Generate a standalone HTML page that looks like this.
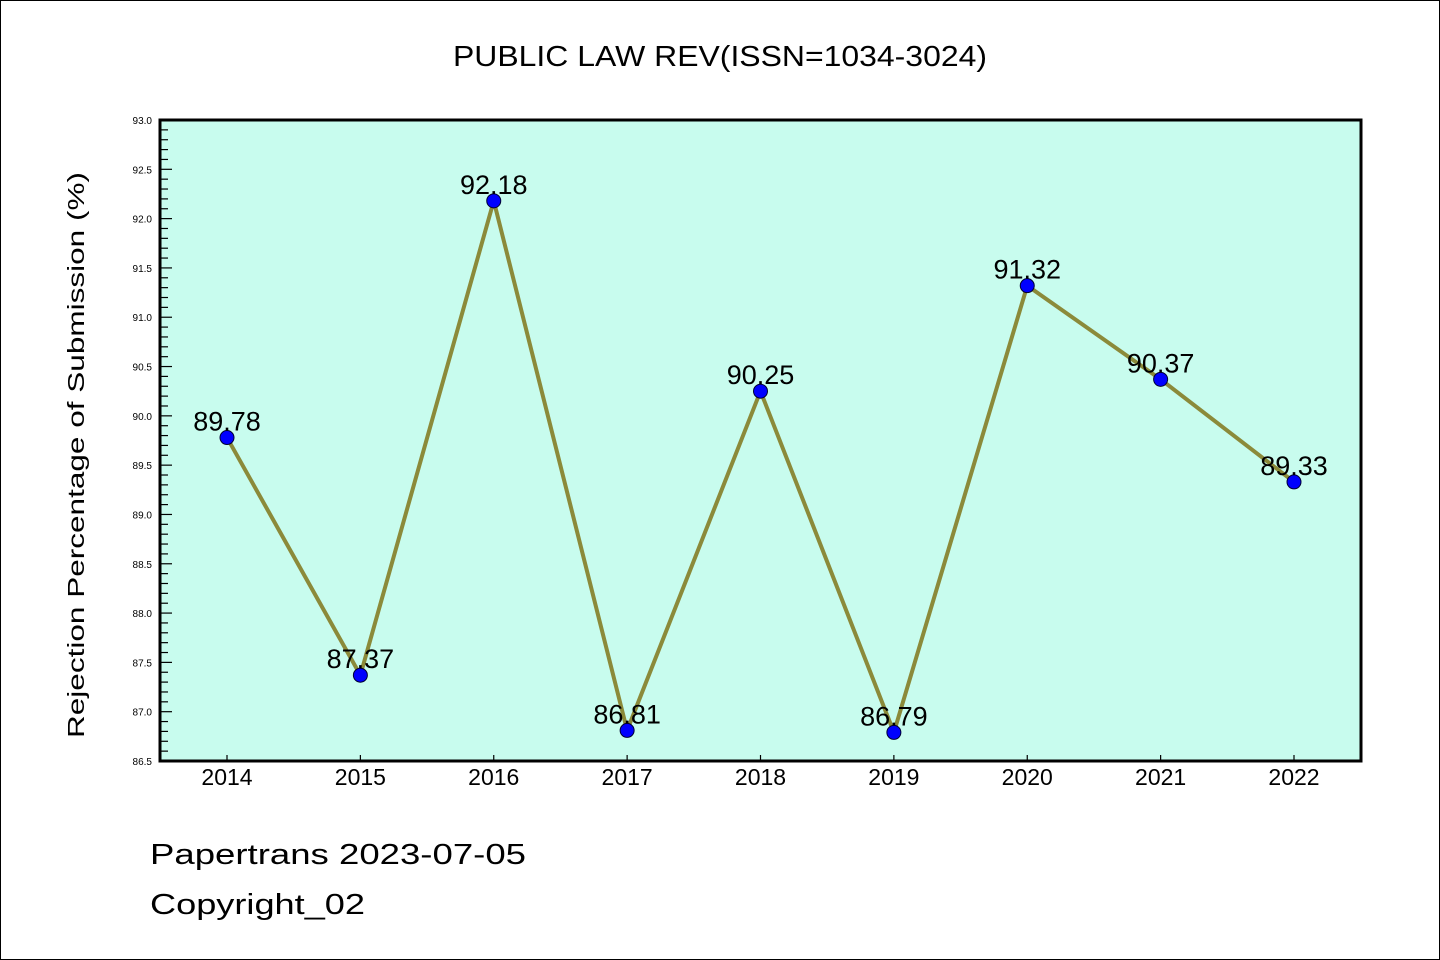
<!DOCTYPE html>
<html><head><meta charset="utf-8"><style>
html,body{margin:0;padding:0;background:#fff;}
svg{display:block;font-family:"Liberation Sans","Noto Sans CJK SC",sans-serif;}
</style></head><body>
<svg id="chart" width="1440" height="960">
<rect x="0.5" y="0.5" width="1439" height="959" fill="#fff" stroke="#000"/>
<text x="720" y="66" font-size="29" text-anchor="middle" textLength="534" lengthAdjust="spacingAndGlyphs">PUBLIC LAW REV(ISSN=1034-3024)</text>
<rect x="160" y="120" width="1201" height="641" fill="#c8fcee"/>
<g id="yaxis"></g>
<g id="xaxis"></g>
<g id="series"></g>
<rect x="160" y="120" width="1201" height="641" fill="none" stroke="#000" stroke-width="3"/>
<text transform="translate(84,455) rotate(-90)" font-size="23" text-anchor="middle" textLength="566" lengthAdjust="spacingAndGlyphs">Rejection Percentage of Submission (%)</text>
<text x="150" y="864" font-size="29" textLength="376" lengthAdjust="spacingAndGlyphs">Papertrans 2023-07-05</text>
<text x="150" y="914" font-size="29" textLength="215" lengthAdjust="spacingAndGlyphs">Copyright_02</text>
</svg>
<script>
const years = ["2014","2015","2016","2017","2018","2019","2020","2021","2022"];
const values = [89.78,87.37,92.18,86.81,90.25,86.79,91.32,90.37,89.33];
const yTicks = ["86.5","87.0","87.5","88.0","88.5","89.0","89.5","90.0","90.5","91.0","91.5","92.0","92.5","93.0"];
const NS="http://www.w3.org/2000/svg";
const yMin=86.5,yMax=93.0,plotTop=120,plotBot=761,plotLeft=160,plotRight=1361;
const x0=227,x1=1294;
function yS(v){return plotBot-(v-yMin)/(yMax-yMin)*(plotBot-plotTop);}
function xS(i){return x0+i*(x1-x0)/(years.length-1);}
function mk(tag,attrs,parent){const e=document.createElementNS(NS,tag);for(const k in attrs)e.setAttribute(k,attrs[k]);parent.appendChild(e);return e;}
const ya=document.getElementById('yaxis'),xa=document.getElementById('xaxis'),se=document.getElementById('series');
for(let k=0;k<=65;k++){
  const v=yMin+k*0.1,y=yS(v),major=k%5===0;
  const t=mk('line',{x1:plotLeft,x2:plotLeft+(major?12:8),y1:y,y2:y,stroke:'#000','stroke-width':1.2},ya);
  
  
}
yTicks.forEach(s=>{
  const t=mk('text',{x:152,y:yS(parseFloat(s))+4,'font-size':10,'text-anchor':'end'},ya);
  t.textContent=s;
  
  
});
years.forEach((yr,i)=>{
  const x=xS(i);
  const l=mk('line',{x1:x,x2:x,y1:plotBot,y2:plotBot-6,stroke:'#000','stroke-width':1.2},xa);
  
  
  const t=mk('text',{x:x,y:785,'font-size':23,'text-anchor':'middle'},xa);
  t.textContent=yr;
  
  
});
const pts=values.map((v,i)=>xS(i)+','+yS(v)).join(' ');
const pl=mk('polyline',{points:pts,fill:'none',stroke:'#8b8a3a','stroke-width':4,'stroke-linejoin':'round'},se);


values.forEach((v,i)=>{
  const c=mk('circle',{cx:xS(i),cy:yS(v),r:7,fill:'#0000ff',stroke:'#000033','stroke-width':1},se);
  
  
  const t=mk('text',{x:xS(i),y:yS(v)-7,'font-size':27,'text-anchor':'middle'},se);
  t.textContent=v.toFixed(2);
  
  
});
</script>
</body></html>
